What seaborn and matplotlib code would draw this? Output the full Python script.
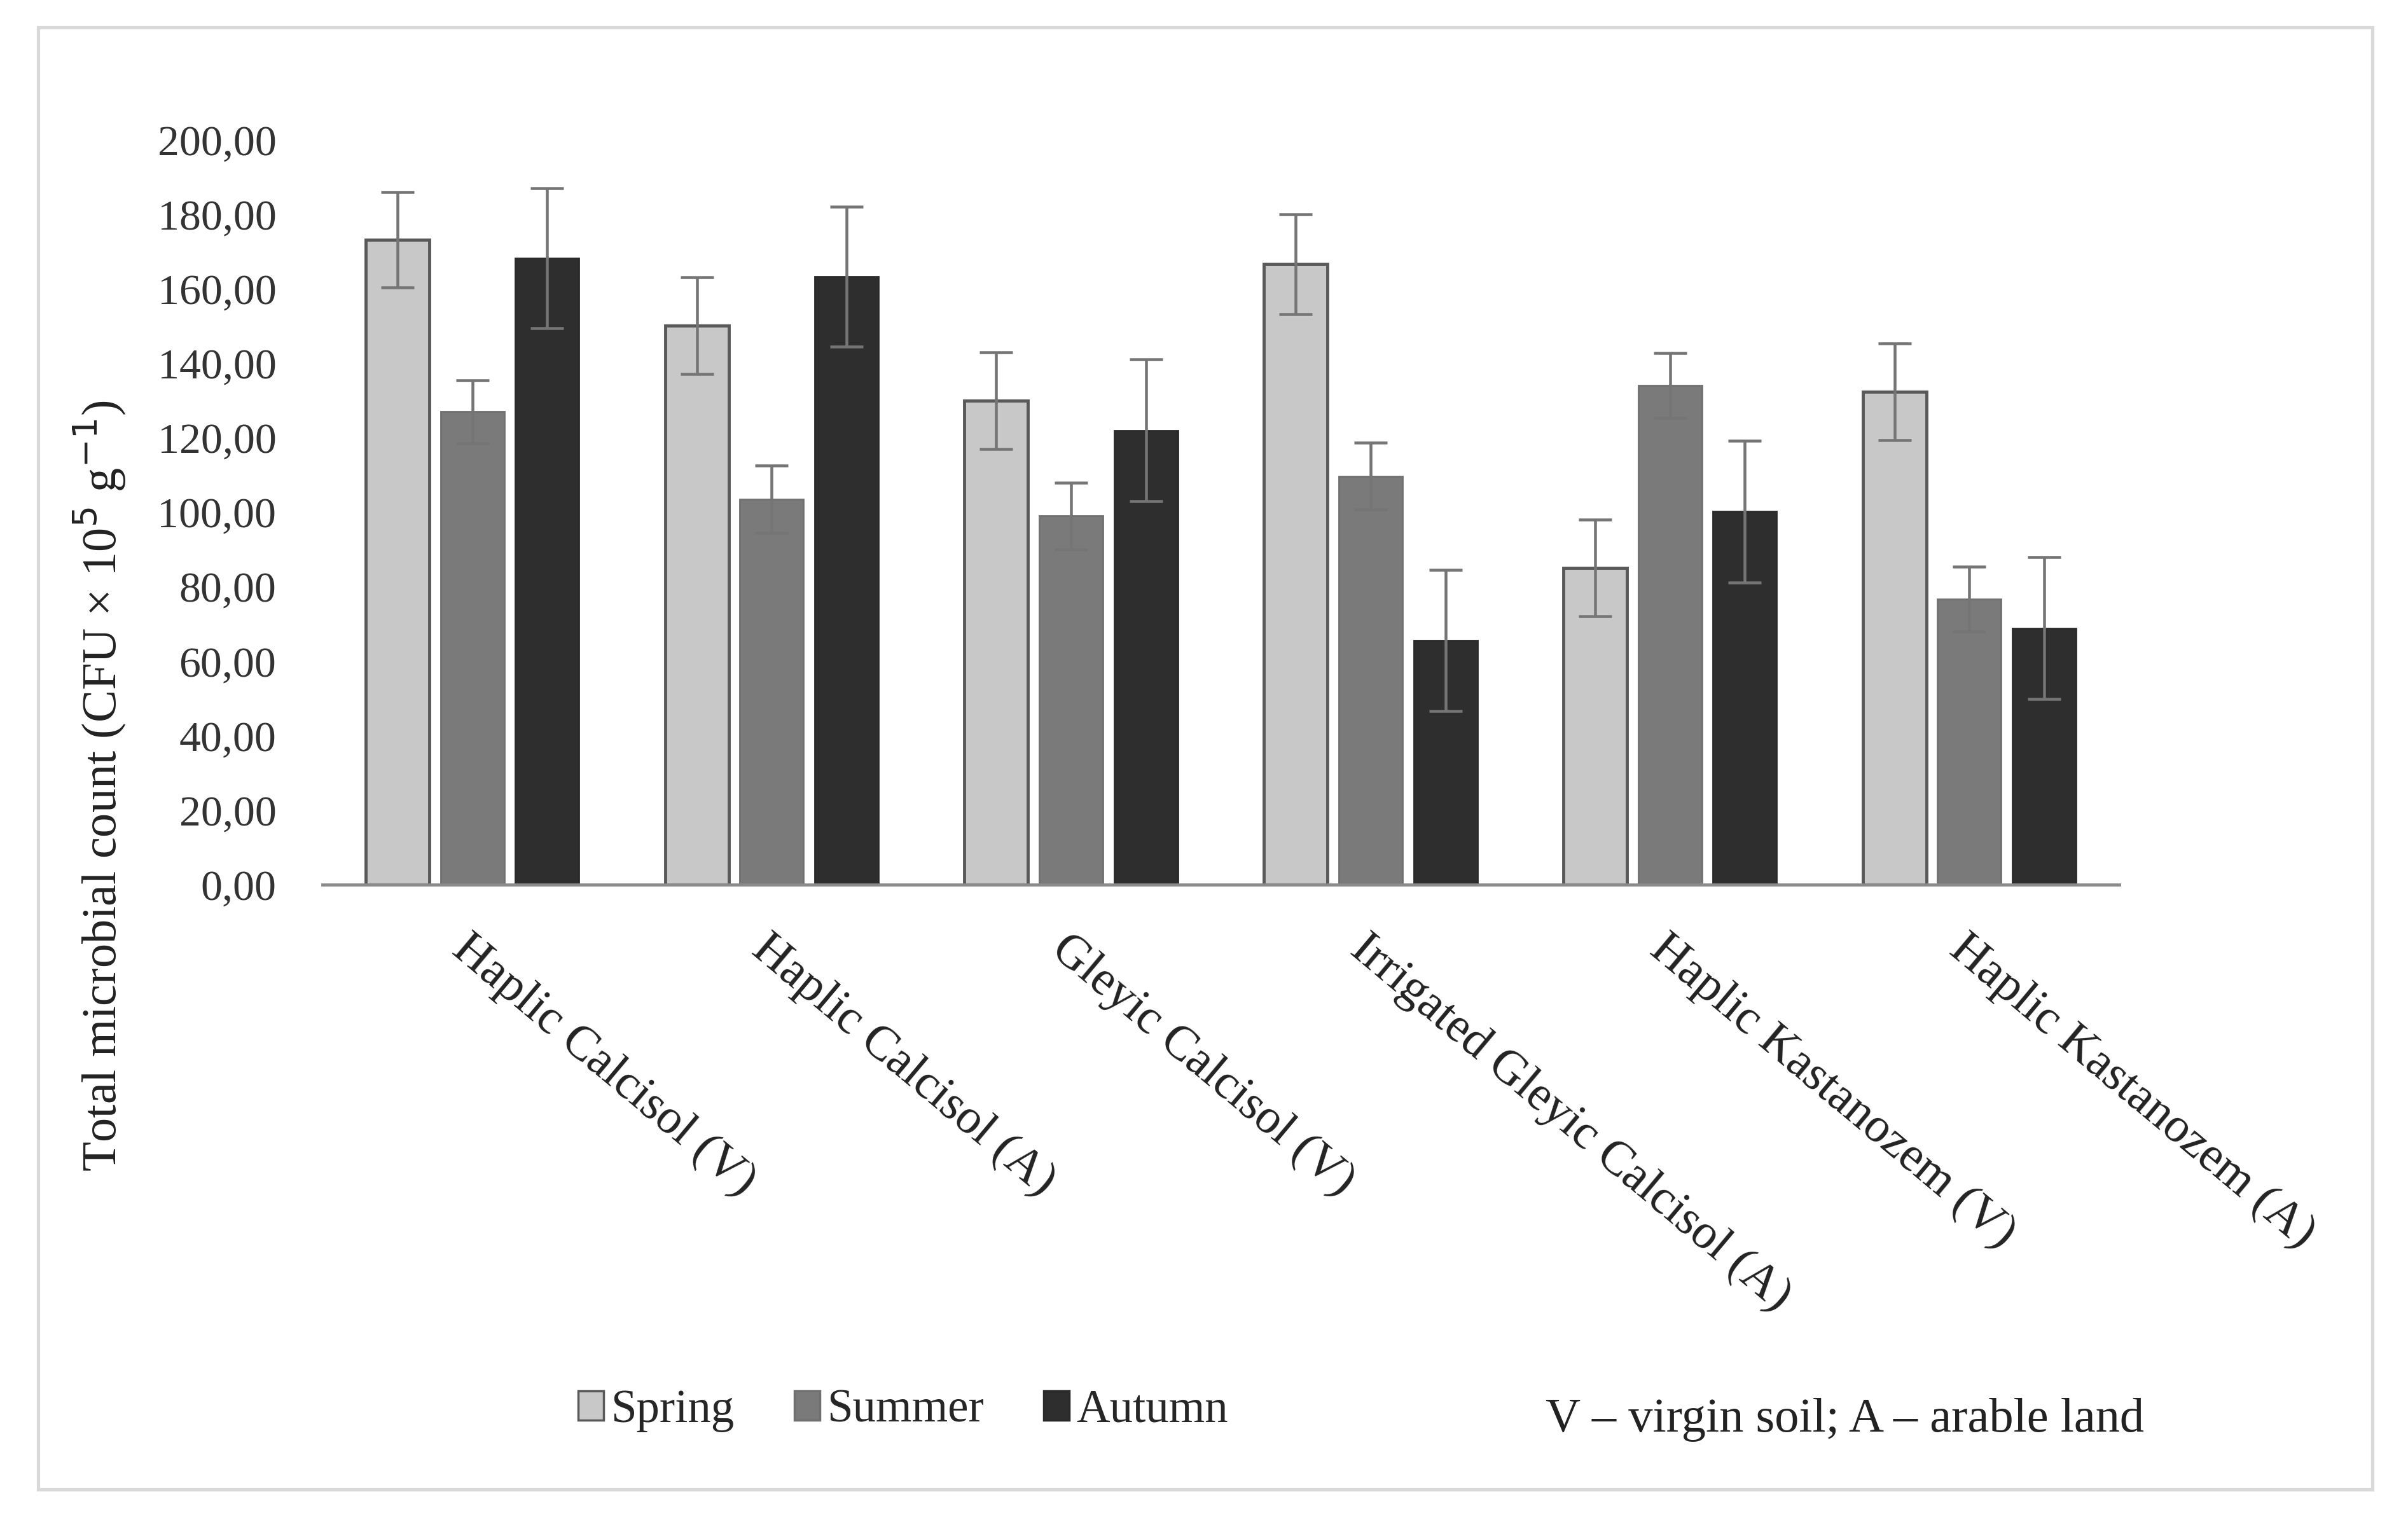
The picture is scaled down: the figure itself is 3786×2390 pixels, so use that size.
import numpy as np
import pandas as pd
import matplotlib
matplotlib.use('Agg')
import matplotlib.pyplot as plt
import seaborn as sns
from matplotlib.patches import Rectangle
from matplotlib.ticker import FuncFormatter

# data
soils = ['Haplic Calcisol (V)', 'Haplic Calcisol (A)', 'Gleyic Calcisol (V)',
         'Irrigated Gleyic Calcisol (A)', 'Haplic Kastanozem (V)', 'Haplic Kastanozem (A)']
seasons = ['Spring', 'Summer', 'Autumn']
spring = [173.2, 150.1, 129.9, 166.6, 85.0, 132.4]
summer = [127.0, 103.5, 99.0, 109.7, 134.0, 76.7]
autumn = [168.2, 163.3, 122.0, 65.6, 100.2, 68.9]
spring_err = [12.8, 13.0, 13.0, 13.4, 13.0, 13.0]
summer_err = [8.5, 9.0, 9.0, 9.0, 8.7, 8.7]
autumn_err = [18.8, 18.8, 19.0, 19.0, 19.0, 19.0]

colors = ['#c8c8c8', '#7a7a7a', '#2e2e2e']
edges = ['#595959', '#707070', '#2a2a2a']

df = pd.DataFrame({
    'soil': soils * 3,
    'season': [s for s in seasons for _ in soils],
    'value': spring + summer + autumn,
})

sns.set_style('white')
plt.rcParams['font.family'] = ['Liberation Serif', 'DejaVu Serif']

fig = plt.figure(figsize=(15.144, 9.56), dpi=250)
ax = fig.add_axes([0.134, 0.418, 0.746, 0.490])

sns.barplot(data=df, x='soil', y='value', hue='season', order=soils,
            hue_order=seasons, palette=colors, width=0.75, gap=0.15,
            errorbar=None, ax=ax, legend=False)

# edges + error bars placed on the drawn bars
bar_groups = list(ax.containers)
all_errs = [spring_err, summer_err, autumn_err]
for k, cont in enumerate(bar_groups):
    xs, ys = [], []
    for bar in cont:
        bar.set_edgecolor(edges[k])
        bar.set_linewidth(1.4 if k == 0 else 0.8)
        xs.append(bar.get_x() + bar.get_width() / 2)
        ys.append(bar.get_height())
    ax.errorbar(xs, ys, yerr=all_errs[k], fmt='none', ecolor='#757575',
                elinewidth=1.3, capsize=7.5, capthick=1.3, zorder=5)

ax.set_ylim(0, 200)
ax.set_xlim(-0.5, 5.5)
ax.set_yticks(np.arange(0, 201, 20))
ax.yaxis.set_major_formatter(FuncFormatter(lambda v, p: f'{v:.2f}'.replace('.', ',')))
ax.tick_params(axis='y', length=0, labelsize=19.5, pad=21, colors='#333333')
ax.tick_params(axis='x', length=0, pad=19)
ax.set_xticks(range(len(soils)))
ax.set_xticklabels(soils, rotation=-40, ha='left', va='top',
                   rotation_mode='anchor', fontsize=22, color='#222222')
ax.set_xlabel('')
ax.set_ylabel('')
for s in ['top', 'right', 'left']:
    ax.spines[s].set_visible(False)
ax.spines['bottom'].set_color('#8a8a8a')
ax.spines['bottom'].set_linewidth(1.4)

fig.text(0.0415, 0.483, 'Total microbial count (CFU × 10$^5$ g$^{-1}$)',
         rotation=90, ha='center', va='center', fontsize=22, color='#222222')

handles = [Rectangle((0, 0), 1, 1, facecolor=c, edgecolor=e, linewidth=1)
           for c, e in zip(colors, edges)]
fig.legend(handles, seasons, loc='center', bbox_to_anchor=(0.375, 0.072),
           ncol=3, frameon=False, fontsize=21, handlelength=0.55,
           handleheight=0.6, handletextpad=0.15, columnspacing=1.3)
fig.text(0.766, 0.066, 'V – virgin soil; A – arable land', ha='center',
         va='center', fontsize=22, color='#222222')

fig.patches.append(Rectangle((25 / 1568, 1 - 970 / 990), 1520 / 1568, 952 / 990,
                             transform=fig.transFigure, fill=False,
                             edgecolor='#d9d9d9', linewidth=1.5))

fig.savefig('out.png', dpi=250, facecolor='white')
